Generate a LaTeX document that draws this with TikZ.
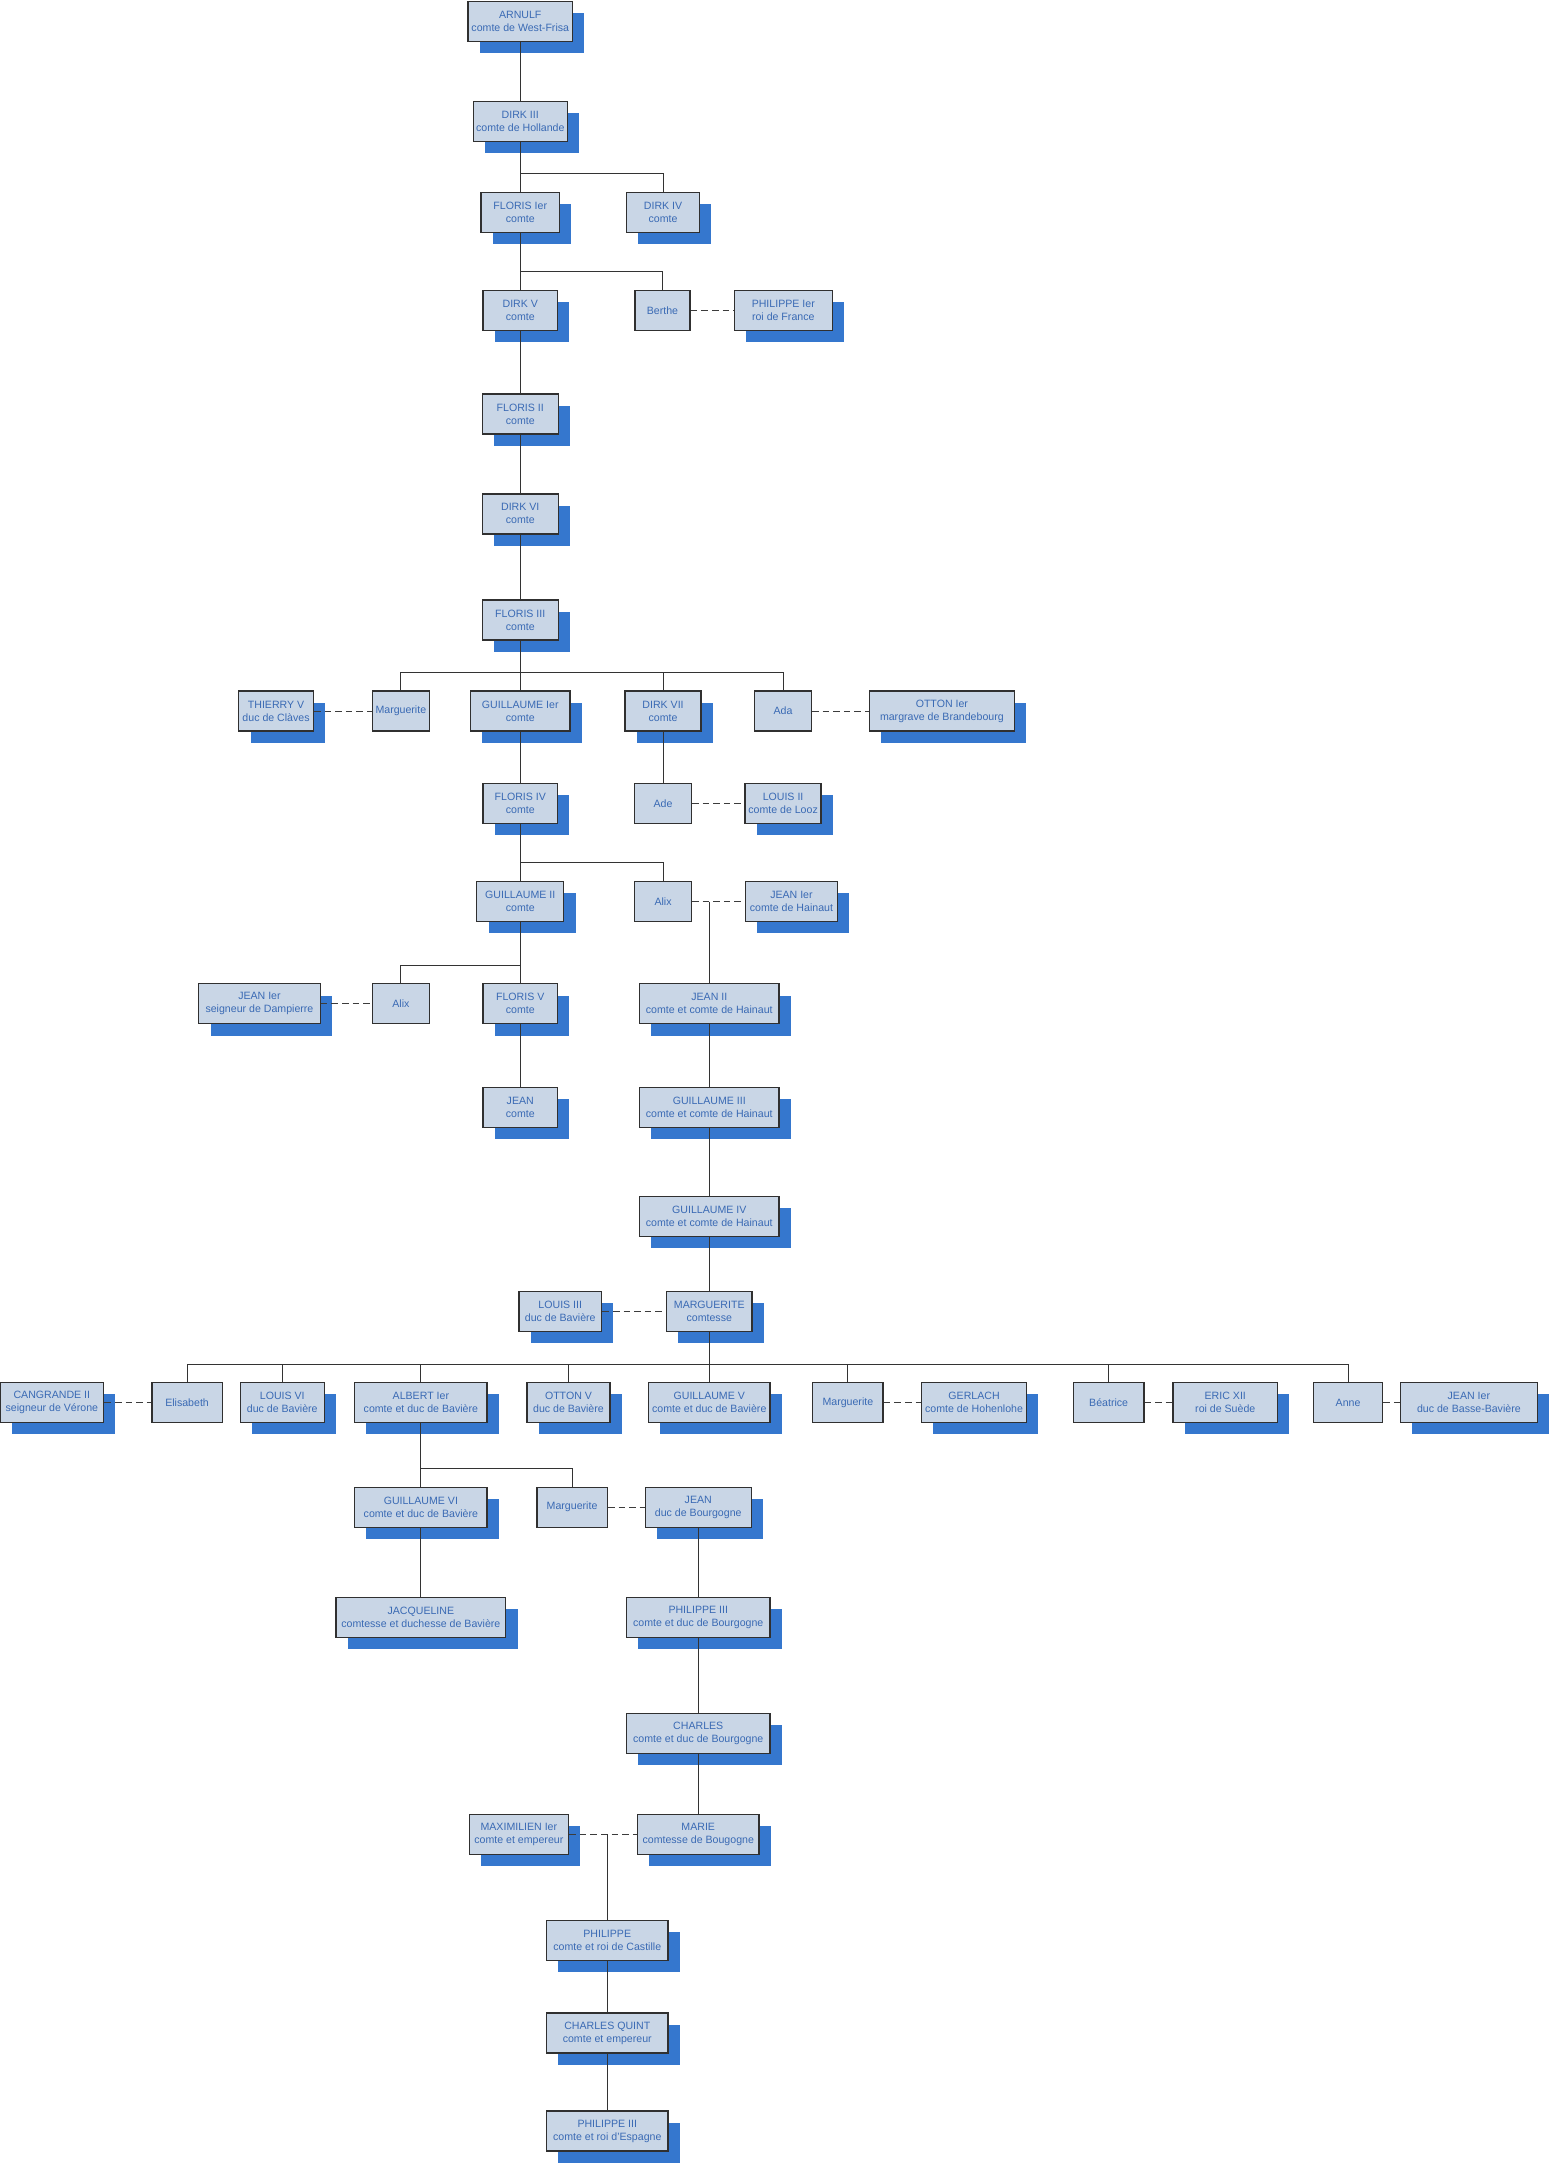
\documentclass[tikz,border=0pt]{standalone}
\usepackage{fontspec}
\setmainfont{Liberation Sans}
\usetikzlibrary{shadows}
\definecolor{boxfill}{HTML}{C9D6E6}
\definecolor{boxline}{HTML}{303030}
\definecolor{shadowblue}{HTML}{3577CE}
\definecolor{nametext}{HTML}{3A6AB4}
\definecolor{linedark}{HTML}{333333}
\definecolor{linegray}{HTML}{3C3C3C}
\tikzstyle{spouse} = [rectangle, draw=boxline, line width=0.65pt, fill=boxfill, text=nametext, minimum height=20pt, inner sep=0pt, align=center, font=\fontsize{5.3}{6.5}\selectfont]
\tikzstyle{person} = [spouse, drop shadow={shadow xshift=5.9pt, shadow yshift=-5.9pt, fill=shadowblue, opacity=1}]
\tikzstyle{kin} = [draw=linedark, line width=0.5pt]
\tikzstyle{wed} = [draw=linegray, line width=0.6pt, dash pattern=on 3.3pt off 2pt]

\begin{document}
\begin{tikzpicture}[x=0.69pt, y=-0.69pt, node distance=50pt] % one unit is one pixel of the scaled chart

    \useasboundingbox (0,0) rectangle (1123.2,1568.1);

    \node (arnulf) [person, minimum width=52.4pt] at (377,15.5) {ARNULF\\comte de West-Frisa};
    \node (dirkiii) [person, minimum width=46.9pt, below of=arnulf] {DIRK III\\comte de Hollande};
    \node (florisi) [person, minimum width=39.3pt, below of=dirkiii, yshift=4.5pt] {FLORIS Ier\\comte};
    \node (dirkiv) [person, minimum width=36.6pt, right of=florisi, xshift=21.4pt] {DIRK IV\\comte};
    \node (dirkv) [person, minimum width=37.3pt, below of=florisi, yshift=1pt] {DIRK V\\comte};
    \node (berthe) [spouse, minimum width=27.6pt, right of=dirkv, xshift=21.1pt] {Berthe};
    \node (philippei) [person, minimum width=49pt, right of=berthe, xshift=10.4pt] {PHILIPPE Ier\\roi de France};
    \node (florisii) [person, minimum width=38pt, below of=dirkv, yshift=-1.75pt] {FLORIS II\\comte};
    \node (dirkvi) [person, minimum width=38pt, below of=florisii] {DIRK VI\\comte};
    \node (florisiii) [person, minimum width=38pt, below of=dirkvi, yshift=-3.1pt] {FLORIS III\\comte};

    \node (guillaumei) [person, minimum width=49.7pt, below of=florisiii, yshift=4.5pt] {GUILLAUME Ier\\comte};
    \node (marguerite1) [spouse, minimum width=28.3pt, left of=guillaumei, xshift=-9.7pt] {Marguerite};
    \node (thierryv) [person, minimum width=37.3pt, left of=marguerite1, xshift=-12.4pt] {THIERRY V\\duc de Clàves};
    \node (dirkvii) [person, minimum width=38pt, right of=guillaumei, xshift=21.4pt] {DIRK VII\\comte};
    \node (ada) [spouse, minimum width=28.3pt, right of=dirkvii, xshift=10pt] {Ada};
    \node (ottoni) [person, minimum width=72.5pt, right of=ada, xshift=29.4pt] {OTTON Ier\\margrave de Brandebourg};
    \node (florisiv) [person, minimum width=37.3pt, below of=guillaumei, yshift=3.8pt] {FLORIS IV\\comte};
    \node (ade) [spouse, minimum width=28.3pt, right of=florisiv, xshift=21.4pt] {Ade};
    \node (louisii) [person, minimum width=38pt, right of=ade, xshift=10pt] {LOUIS II\\comte de Looz};
    \node (guillaumeii) [person, minimum width=43.5pt, below of=florisiv, yshift=1pt] {GUILLAUME II\\comte};
    \node (alixa) [spouse, minimum width=28.3pt, right of=guillaumeii, xshift=21.4pt] {Alix};
    \node (jeanihainaut) [person, minimum width=46.2pt, right of=alixa, xshift=14.2pt] {JEAN Ier\\comte de Hainaut};
    \node (florisv) [person, minimum width=37.3pt, below of=guillaumeii, yshift=-1.1pt] {FLORIS V\\comte};
    \node (alixb) [spouse, minimum width=28.3pt, left of=florisv, xshift=-9.7pt] {Alix};
    \node (jeanidampierre) [person, minimum width=60.7pt, left of=alixb, xshift=-20.7pt] {JEAN Ier\\seigneur de Dampierre};
    \node (jeanii) [person, minimum width=69.7pt, right of=florisv, xshift=44.5pt] {JEAN II\\comte et comte de Hainaut};
    \node (jean) [person, minimum width=37.3pt, below of=florisv, yshift=-1.75pt] {JEAN\\comte};
    \node (guillaumeiii) [person, minimum width=69.7pt, below of=jeanii, yshift=-1.75pt] {GUILLAUME III\\comte et comte de Hainaut};
    \node (guillaumeiv) [person, minimum width=69.7pt, below of=guillaumeiii, yshift=-4.5pt] {GUILLAUME IV\\comte et comte de Hainaut};
    \node (marguerite) [person, minimum width=42.8pt, below of=guillaumeiv, yshift=2.4pt] {MARGUERITE\\comtesse};
    \node (louisiii) [person, minimum width=41.4pt, left of=marguerite, xshift=-24.5pt] {LOUIS III\\duc de Bavière};

    \node (guillaumev) [person, minimum width=60.7pt, below of=marguerite, yshift=4.5pt] {GUILLAUME V\\comte et duc de Bavière};
    \node (ottonv) [person, minimum width=41.4pt, left of=guillaumev, xshift=-20.4pt] {OTTON V\\duc de Bavière};
    \node (alberti) [person, minimum width=66.2pt, left of=ottonv, xshift=-23.8pt] {ALBERT Ier\\comte et duc de Bavière};
    \node (louisvi) [person, minimum width=42.1pt, left of=alberti, xshift=-19.3pt] {LOUIS VI\\duc de Bavière};
    \node (elisabeth) [spouse, minimum width=35.2pt, left of=louisvi, xshift=2.4pt] {Elisabeth};
    \node (cangrande) [person, minimum width=51.8pt, left of=elisabeth, xshift=-17.6pt] {CANGRANDE II\\seigneur de Vérone};
    \node (margueritec) [spouse, minimum width=35.2pt, right of=guillaumev, xshift=19.3pt] {Marguerite};
    \node (gerlach) [person, minimum width=52.4pt, right of=margueritec, xshift=13.1pt] {GERLACH\\comte de Hohenlohe};
    \node (beatrice) [spouse, minimum width=35.2pt, right of=gerlach, xshift=17.3pt] {Béatrice};
    \node (ericxii) [person, minimum width=52.4pt, right of=beatrice, xshift=8.3pt] {ERIC XII\\roi de Suède};
    \node (anne) [spouse, minimum width=34.5pt, right of=ericxii, xshift=11.4pt] {Anne};
    \node (jeanibaviere) [person, minimum width=68.3pt, right of=anne, xshift=10.4pt] {JEAN Ier\\duc de Basse-Bavière};

    \node (guillaumevi) [person, minimum width=66.2pt, below of=alberti, yshift=-2.4pt] {GUILLAUME VI\\comte et duc de Bavière};
    \node (margueritd) [spouse, minimum width=35.2pt, right of=guillaumevi, xshift=25.6pt] {Marguerite};
    \node (jeanbourgogne) [person, minimum width=53.1pt, right of=margueritd, xshift=13.1pt] {JEAN\\duc de Bourgogne};
    \node (jacqueline) [person, minimum width=84.9pt, below of=guillaumevi, yshift=-5.2pt] {JACQUELINE\\comtesse et duchesse de Bavière};
    \node (philippeiii) [person, minimum width=71.8pt, below of=jeanbourgogne, yshift=-5.2pt] {PHILIPPE III\\comte et duc de Bourgogne};
    \node (charles) [person, minimum width=71.8pt, below of=philippeiii, yshift=-8pt] {CHARLES\\comte et duc de Bourgogne};
    \node (marie) [person, minimum width=60.7pt, below of=charles, yshift=-0.4pt] {MARIE\\comtesse de Bougogne};
    \node (maximilien) [person, minimum width=49.7pt, left of=marie, xshift=-39.7pt] {MAXIMILIEN Ier\\comte et empereur};
    \node (philippe) [person, minimum width=60.7pt, below of=marie, xshift=-45.5pt, yshift=-3.1pt] {PHILIPPE\\comte et roi de Castille};
    \node (charlesquint) [person, minimum width=60.7pt, below of=philippe, yshift=3.8pt] {CHARLES QUINT\\comte et empereur};
    \node (philippeiiie) [person, minimum width=60.7pt, below of=charlesquint, yshift=1pt] {PHILIPPE III\\comte et roi d'Espagne};

    \draw[kin] (arnulf) -- (dirkiii);
    \draw[kin] (dirkiii) -- (florisi);
    \draw[kin] (dirkiii.south) |- ([yshift=9pt]dirkiv.north) -- (dirkiv);
    \draw[kin] (florisi) -- (dirkv);
    \draw[kin] (florisi.south) |- ([yshift=9pt]berthe.north) -- (berthe);
    \draw[wed] (berthe) -- (philippei);
    \draw[kin] (dirkv) -- (florisii);
    \draw[kin] (florisii) -- (dirkvi);
    \draw[kin] (dirkvi) -- (florisiii);

    \draw[kin] (florisiii) -- (guillaumei);
    \draw[kin] (florisiii.south) |- ([yshift=9pt]marguerite1.north) -- (marguerite1);
    \draw[kin] (florisiii.south) |- ([yshift=9pt]dirkvii.north) -- (dirkvii);
    \draw[kin] (florisiii.south) |- ([yshift=9pt]ada.north) -- (ada);
    \draw[wed] (thierryv) -- (marguerite1);
    \draw[wed] (ada) -- (ottoni);
    \draw[kin] (guillaumei) -- (florisiv);
    \draw[kin] (dirkvii) -- (ade);
    \draw[wed] (ade) -- (louisii);
    \draw[kin] (florisiv) -- (guillaumeii);
    \draw[kin] (florisiv.south) |- ([yshift=9pt]alixa.north) -- (alixa);
    \draw[wed] (alixa) -- (jeanihainaut);
    \draw[kin] (alixa -| jeanii) -- (jeanii);
    \draw[kin] (guillaumeii) -- (florisv);
    \draw[kin] (guillaumeii.south) |- ([yshift=9pt]alixb.north) -- (alixb);
    \draw[wed] (jeanidampierre) -- (alixb);
    \draw[kin] (florisv) -- (jean);
    \draw[kin] (jeanii) -- (guillaumeiii);
    \draw[kin] (guillaumeiii) -- (guillaumeiv);
    \draw[kin] (guillaumeiv) -- (marguerite);
    \draw[wed] (louisiii) -- (marguerite);

    \draw[kin] (marguerite) -- (guillaumev);
    \draw[kin] (marguerite.south) |- ([yshift=8.5pt]elisabeth.north) -- (elisabeth);
    \draw[kin] (marguerite.south) |- ([yshift=8.5pt]louisvi.north) -- (louisvi);
    \draw[kin] (marguerite.south) |- ([yshift=8.5pt]alberti.north) -- (alberti);
    \draw[kin] (marguerite.south) |- ([yshift=8.5pt]ottonv.north) -- (ottonv);
    \draw[kin] (marguerite.south) |- ([yshift=8.5pt]margueritec.north) -- (margueritec);
    \draw[kin] (marguerite.south) |- ([yshift=8.5pt]beatrice.north) -- (beatrice);
    \draw[kin] (marguerite.south) |- ([yshift=8.5pt]anne.north) -- (anne);
    \draw[wed] (cangrande) -- (elisabeth);
    \draw[wed] (margueritec) -- (gerlach);
    \draw[wed] (beatrice) -- (ericxii);
    \draw[wed] (anne) -- (jeanibaviere);

    \draw[kin] (alberti) -- (guillaumevi);
    \draw[kin] (alberti.south) |- ([yshift=9pt]margueritd.north) -- (margueritd);
    \draw[wed] (margueritd) -- (jeanbourgogne);
    \draw[kin] (guillaumevi) -- (jacqueline);
    \draw[kin] (jeanbourgogne) -- (philippeiii);
    \draw[kin] (philippeiii) -- (charles);
    \draw[kin] (charles) -- (marie);
    \draw[wed] (maximilien) -- (marie);
    \draw[kin] (maximilien -| philippe) -- (philippe);
    \draw[kin] (philippe) -- (charlesquint);
    \draw[kin] (charlesquint) -- (philippeiiie);

\end{tikzpicture}
\end{document}
